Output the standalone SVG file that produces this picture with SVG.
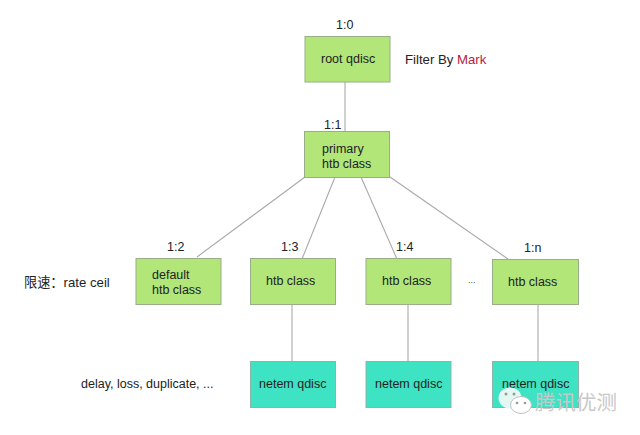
<svg xmlns="http://www.w3.org/2000/svg" width="640" height="435" viewBox="0 0 640 435">
<style>
text{font-family:"Liberation Sans","Noto Sans CJK SC",sans-serif;font-size:12.500px;fill:#222}
.g{fill:#b2e679;stroke:#98ad88;stroke-width:1}
.t{fill:#3ee3c3;stroke:#8ab5aa;stroke-width:1}
.c line{stroke:#a9a9a9;stroke-width:1.1}
.wm{font-size:20.500px;fill:#c8c8c8}
.n{font-size:13.200px}
</style>
<rect width="640" height="435" fill="#fff"/>
<g id="connectors" class="c">
<line x1="345" y1="82" x2="345" y2="132"/>
<line x1="305" y1="177" x2="197" y2="257"/>
<line x1="335" y1="177" x2="302" y2="259"/>
<line x1="361" y1="177" x2="397" y2="259"/>
<line x1="390" y1="177" x2="508" y2="259"/>
<line x1="292" y1="304" x2="292" y2="362"/>
<line x1="408" y1="304" x2="408" y2="362"/>
<line x1="538" y1="304" x2="538" y2="362"/>
</g>
<g id="root"><rect class="g" x="305" y="36.500" width="85" height="45.500"/><text x="321" y="63">root qdisc</text><text x="336" y="29">1:0</text></g>
<g id="primary"><rect class="g" x="304.500" y="131.500" width="85" height="46"/><text x="322" y="153">primary</text><text x="322" y="168">htb class</text><text x="324" y="129">1:1</text></g>
<g id="default"><rect class="g" x="136" y="258.500" width="85" height="46"/><text x="152" y="279">default</text><text x="152" y="294">htb class</text><text x="167" y="251">1:2</text></g>
<g id="htb3"><rect class="g" x="250.500" y="258.500" width="85" height="46"/><text x="266" y="285">htb class</text><text x="281" y="251">1:3</text></g>
<g id="htb4"><rect class="g" x="366" y="258.500" width="85" height="46"/><text x="382" y="285">htb class</text><text x="396" y="251">1:4</text></g>
<g id="htbn"><rect class="g" x="492.500" y="259.500" width="86" height="45"/><text x="508" y="286">htb class</text><text x="524" y="252">1:n</text></g>
<g id="netem3"><rect class="t" x="250.500" y="361.500" width="85" height="46"/><text x="259" y="388">netem qdisc</text></g>
<g id="netem4"><rect class="t" x="366" y="361.500" width="85" height="46"/><text x="375" y="388">netem qdisc</text></g>
<g id="netemn"><rect class="t" x="492.500" y="361.500" width="86" height="46"/><text x="502" y="388">netem qdisc</text></g>
<g id="notes">
<text class="n" x="405" y="64">Filter By <tspan fill="#b5213f">Mark</tspan></text>
<text class="n" x="24" y="287">限速：rate ceil</text>
<text x="81" y="388">delay, loss, duplicate, ...</text>
<text x="468" y="283" style="font-size:9px;fill:#555">...</text>
</g>
<g id="watermark">
<ellipse cx="510" cy="398" rx="11.500" ry="10.500" fill="#e4f8f3"/>
<ellipse cx="521" cy="405" rx="10.500" ry="8.500" fill="#fff" stroke="#c0c0c0"/>
<circle cx="506" cy="394" r="1.500" fill="#999"/><circle cx="514" cy="394" r="1.500" fill="#999"/>
<circle cx="517" cy="403" r="1.300" fill="#999"/><circle cx="525" cy="403" r="1.300" fill="#999"/>
<text class="wm" x="535" y="410">腾讯优测</text>
</g>
</svg>
